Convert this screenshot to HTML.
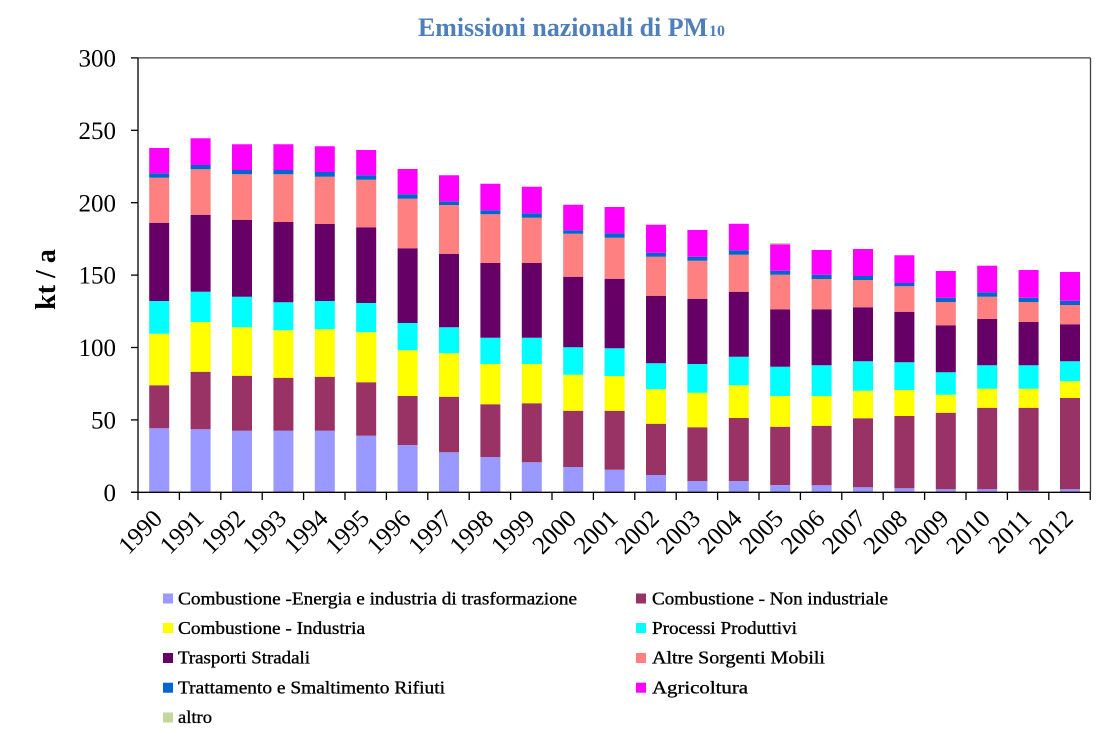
<!DOCTYPE html>
<html>
<head>
<meta charset="utf-8">
<style>
  html, body { margin: 0; padding: 0; background: #ffffff; }
  svg { display: block; }
  text { font-family: "Liberation Serif", "Times New Roman", serif; }
</style>
</head>
<body>
<svg width="1103" height="740" viewBox="0 0 1103 740" xmlns="http://www.w3.org/2000/svg">
  <rect x="0" y="0" width="1103" height="740" fill="#ffffff"/>

  <!-- Title -->
  <text x="418" y="36" font-size="26" font-weight="bold" fill="#4f7fbb" textLength="290" lengthAdjust="spacingAndGlyphs">Emissioni nazionali di PM</text>
  <text x="709" y="36" font-size="16" font-weight="bold" fill="#4f7fbb">10</text>

  <!-- Bars: lavender -->
  <path fill="#9999ff" d="M149.2,492.3V428.3h20V492.3z M190.6,492.3V429.3h20V492.3z M232,492.3V430.7h20V492.3z M273.4,492.3V430.7h20V492.3z M314.8,492.3V430.7h20V492.3z M356.2,492.3V435.7h20V492.3z M397.6,492.3V445h20V492.3z M439,492.3V452.3h20V492.3z M480.4,492.3V457h20V492.3z M521.8,492.3V462.3h20V492.3z M563.2,492.3V467h20V492.3z M604.6,492.3V469.7h20V492.3z M646,492.3V475h20V492.3z M687.4,492.3V481h20V492.3z M728.8,492.3V481h20V492.3z M770.2,492.3V485h20V492.3z M811.6,492.3V485.3h20V492.3z M853,492.3V487.3h20V492.3z M894.4,492.3V488.3h20V492.3z M935.8,492.3V489.3h20V492.3z M977.2,492.3V489.3h20V492.3z M1018.6,492.3V490.7h20V492.3z M1060,492.3V489.3h20V492.3z"/>
  <!-- maroon -->
  <path fill="#993366" d="M149.2,428.3V385.3h20V428.3z M190.6,429.3V371.7h20V429.3z M232,430.7V375.7h20V430.7z M273.4,430.7V377.7h20V430.7z M314.8,430.7V376.7h20V430.7z M356.2,435.7V382.3h20V435.7z M397.6,445V396h20V445z M439,452.3V396.7h20V452.3z M480.4,457V404.3h20V457z M521.8,462.3V403.3h20V462.3z M563.2,467V410.7h20V467z M604.6,469.7V410.7h20V469.7z M646,475V423.7h20V475z M687.4,481V427.3h20V481z M728.8,481V418h20V481z M770.2,485V426.7h20V485z M811.6,485.3V425.7h20V485.3z M853,487.3V418.3h20V487.3z M894.4,488.3V416h20V488.3z M935.8,489.3V412.7h20V489.3z M977.2,489.3V407.7h20V489.3z M1018.6,490.7V407.7h20V490.7z M1060,489.3V398h20V489.3z"/>
  <!-- yellow -->
  <path fill="#ffff00" d="M149.2,385.3V333.7h20V385.3z M190.6,371.7V322h20V371.7z M232,375.7V327.3h20V375.7z M273.4,377.7V330.3h20V377.7z M314.8,376.7V329.3h20V376.7z M356.2,382.3V332.3h20V382.3z M397.6,396V350.3h20V396z M439,396.7V353.3h20V396.7z M480.4,404.3V364h20V404.3z M521.8,403.3V364h20V403.3z M563.2,410.7V374.7h20V410.7z M604.6,410.7V376h20V410.7z M646,423.7V389.3h20V423.7z M687.4,427.3V392.7h20V427.3z M728.8,418V385.3h20V418z M770.2,426.7V396h20V426.7z M811.6,425.7V396h20V425.7z M853,418.3V390.7h20V418.3z M894.4,416V390h20V416z M935.8,412.7V394.7h20V412.7z M977.2,407.7V388.7h20V407.7z M1018.6,407.7V388.7h20V407.7z M1060,398V381.3h20V398z"/>
  <!-- cyan -->
  <path fill="#00ffff" d="M149.2,333.7V301h20V333.7z M190.6,322V291.7h20V322z M232,327.3V296.7h20V327.3z M273.4,330.3V302.3h20V330.3z M314.8,329.3V301h20V329.3z M356.2,332.3V303h20V332.3z M397.6,350.3V323h20V350.3z M439,353.3V327.3h20V353.3z M480.4,364V337.7h20V364z M521.8,364V337.7h20V364z M563.2,374.7V347.3h20V374.7z M604.6,376V348.3h20V376z M646,389.3V363.3h20V389.3z M687.4,392.7V364h20V392.7z M728.8,385.3V356.7h20V385.3z M770.2,396V366.7h20V396z M811.6,396V365.3h20V396z M853,390.7V361.3h20V390.7z M894.4,390V362.3h20V390z M935.8,394.7V372.3h20V394.7z M977.2,388.7V365.3h20V388.7z M1018.6,388.7V365.3h20V388.7z M1060,381.3V361.3h20V381.3z"/>
  <!-- dark purple -->
  <path fill="#660066" d="M149.2,301V222.7h20V301z M190.6,291.7V214.7h20V291.7z M232,296.7V219.7h20V296.7z M273.4,302.3V222h20V302.3z M314.8,301V224h20V301z M356.2,303V227.3h20V303z M397.6,323V248.3h20V323z M439,327.3V253.7h20V327.3z M480.4,337.7V263h20V337.7z M521.8,337.7V263h20V337.7z M563.2,347.3V276.7h20V347.3z M604.6,348.3V278.7h20V348.3z M646,363.3V295.7h20V363.3z M687.4,364V298.7h20V364z M728.8,356.7V291.7h20V356.7z M770.2,366.7V309.3h20V366.7z M811.6,365.3V309.3h20V365.3z M853,361.3V307.3h20V361.3z M894.4,362.3V311.7h20V362.3z M935.8,372.3V325.3h20V372.3z M977.2,365.3V319h20V365.3z M1018.6,365.3V322h20V365.3z M1060,361.3V324.3h20V361.3z"/>
  <!-- salmon -->
  <path fill="#ff8080" d="M149.2,222.7V177.7h20V222.7z M190.6,214.7V169.3h20V214.7z M232,219.7V174.3h20V219.7z M273.4,222V174.3h20V222z M314.8,224V176.7h20V224z M356.2,227.3V179.7h20V227.3z M397.6,248.3V198.7h20V248.3z M439,253.7V205h20V253.7z M480.4,263V214.3h20V263z M521.8,263V217.7h20V263z M563.2,276.7V233.7h20V276.7z M604.6,278.7V237.7h20V278.7z M646,295.7V256.7h20V295.7z M687.4,298.7V260.7h20V298.7z M728.8,291.7V254.7h20V291.7z M770.2,309.3V274.7h20V309.3z M811.6,309.3V279h20V309.3z M853,307.3V280h20V307.3z M894.4,311.7V286.3h20V311.7z M935.8,325.3V302h20V325.3z M977.2,319V296.7h20V319z M1018.6,322V302h20V322z M1060,324.3V305h20V324.3z"/>
  <!-- blue -->
  <path fill="#0066cc" d="M149.2,177.7V173.3h20V177.7z M190.6,169.3V165h20V169.3z M232,174.3V170h20V174.3z M273.4,174.3V170h20V174.3z M314.8,176.7V172h20V176.7z M356.2,179.7V175.3h20V179.7z M397.6,198.7V194.3h20V198.7z M439,205V201.3h20V205z M480.4,214.3V210.3h20V214.3z M521.8,217.7V213.3h20V217.7z M563.2,233.7V230.3h20V233.7z M604.6,237.7V233.3h20V237.7z M646,256.7V252.7h20V256.7z M687.4,260.7V256.7h20V260.7z M728.8,254.7V250.3h20V254.7z M770.2,274.7V270.7h20V274.7z M811.6,279V274.7h20V279z M853,280V276h20V280z M894.4,286.3V283h20V286.3z M935.8,302V297.7h20V302z M977.2,296.7V292.3h20V296.7z M1018.6,302V297.7h20V302z M1060,305V300.7h20V305z"/>
  <!-- magenta -->
  <path fill="#ff00ff" d="M149.2,173.3V148h20V173.3z M190.6,165V138.3h20V165z M232,170V144.3h20V170z M273.4,170V144.3h20V170z M314.8,172V146.3h20V172z M356.2,175.3V150h20V175.3z M397.6,194.3V169h20V194.3z M439,201.3V175.3h20V201.3z M480.4,210.3V183.7h20V210.3z M521.8,213.3V186.7h20V213.3z M563.2,230.3V204.7h20V230.3z M604.6,233.3V207h20V233.3z M646,252.7V224.7h20V252.7z M687.4,256.7V230h20V256.7z M728.8,250.3V223.7h20V250.3z M770.2,270.7V244.2h20V270.7z M811.6,274.7V250h20V274.7z M853,276V249h20V276z M894.4,283V255.3h20V283z M935.8,297.7V271h20V297.7z M977.2,292.3V265.7h20V292.3z M1018.6,297.7V270h20V297.7z M1060,300.7V272h20V300.7z"/>
  <!-- altro (tiny) -->
  <path fill="#c3d69b" d="M770.2,244.2V243h20V244.2z"/>

  <!-- Frame (top & right) -->
  <line x1="138" y1="57.9" x2="1090.5" y2="57.9" stroke="#404040" stroke-width="1.3"/>
  <line x1="1090.5" y1="57.9" x2="1090.5" y2="492.3" stroke="#404040" stroke-width="1.3"/>

  <!-- Axes -->
  <line x1="138" y1="57.9" x2="138" y2="492.3" stroke="#000" stroke-width="1.3"/>
  <line x1="131" y1="492.3" x2="1090.5" y2="492.3" stroke="#000" stroke-width="1.3"/>

  <!-- Y ticks -->
  <g stroke="#000" stroke-width="1.3">
    <line x1="131" y1="57.9" x2="138" y2="57.9"/>
    <line x1="131" y1="130.3" x2="138" y2="130.3"/>
    <line x1="131" y1="202.7" x2="138" y2="202.7"/>
    <line x1="131" y1="275.1" x2="138" y2="275.1"/>
    <line x1="131" y1="347.5" x2="138" y2="347.5"/>
    <line x1="131" y1="419.9" x2="138" y2="419.9"/>
    <line x1="131" y1="492.3" x2="138" y2="492.3"/>
  </g>

  <!-- X ticks -->
  <path stroke="#000" stroke-width="1.3" fill="none" d="M138,492.3V500 M179.4,492.3V500 M220.8,492.3V500 M262.2,492.3V500 M303.6,492.3V500 M345,492.3V500 M386.4,492.3V500 M427.8,492.3V500 M469.2,492.3V500 M510.6,492.3V500 M552,492.3V500 M593.4,492.3V500 M634.8,492.3V500 M676.2,492.3V500 M717.6,492.3V500 M759,492.3V500 M800.4,492.3V500 M841.8,492.3V500 M883.2,492.3V500 M924.6,492.3V500 M966,492.3V500 M1007.4,492.3V500 M1048.8,492.3V500 M1090.2,492.3V500"/>

  <!-- Y tick labels -->
  <g font-size="25" fill="#000" text-anchor="end">
    <text x="116" y="66.5">300</text>
    <text x="116" y="138.9">250</text>
    <text x="116" y="211.3">200</text>
    <text x="116" y="283.7">150</text>
    <text x="116" y="356.1">100</text>
    <text x="116" y="428.5">50</text>
    <text x="116" y="500.9">0</text>
  </g>

  <!-- Y axis title -->
  <text x="0" y="0" font-size="28" font-weight="bold" fill="#000" text-anchor="middle" transform="translate(55,279.5) rotate(-90)">kt / a</text>

  <!-- X tick labels -->
  <g font-size="25" fill="#000" text-anchor="end">
    <text transform="translate(163.7,520) rotate(-45)">1990</text>
    <text transform="translate(205.1,520) rotate(-45)">1991</text>
    <text transform="translate(246.5,520) rotate(-45)">1992</text>
    <text transform="translate(287.9,520) rotate(-45)">1993</text>
    <text transform="translate(329.3,520) rotate(-45)">1994</text>
    <text transform="translate(370.7,520) rotate(-45)">1995</text>
    <text transform="translate(412.1,520) rotate(-45)">1996</text>
    <text transform="translate(453.5,520) rotate(-45)">1997</text>
    <text transform="translate(494.9,520) rotate(-45)">1998</text>
    <text transform="translate(536.3,520) rotate(-45)">1999</text>
    <text transform="translate(577.7,520) rotate(-45)">2000</text>
    <text transform="translate(619.1,520) rotate(-45)">2001</text>
    <text transform="translate(660.5,520) rotate(-45)">2002</text>
    <text transform="translate(701.9,520) rotate(-45)">2003</text>
    <text transform="translate(743.3,520) rotate(-45)">2004</text>
    <text transform="translate(784.7,520) rotate(-45)">2005</text>
    <text transform="translate(826.1,520) rotate(-45)">2006</text>
    <text transform="translate(867.5,520) rotate(-45)">2007</text>
    <text transform="translate(908.9,520) rotate(-45)">2008</text>
    <text transform="translate(950.3,520) rotate(-45)">2009</text>
    <text transform="translate(991.7,520) rotate(-45)">2010</text>
    <text transform="translate(1033.1,520) rotate(-45)">2011</text>
    <text transform="translate(1074.5,520) rotate(-45)">2012</text>
  </g>

  <!-- Legend -->
  <g font-size="18" fill="#000" stroke="#000" stroke-width="0.35">
    <rect x="163" y="593.5" width="10" height="10" fill="#9999ff" stroke="none"/>
    <text x="178" y="604.5" textLength="399" lengthAdjust="spacingAndGlyphs">Combustione -Energia e industria di trasformazione</text>
    <rect x="163" y="623" width="10" height="10" fill="#ffff00" stroke="none"/>
    <text x="178" y="634" textLength="187" lengthAdjust="spacingAndGlyphs">Combustione - Industria</text>
    <rect x="163" y="653" width="10" height="10" fill="#660066" stroke="none"/>
    <text x="178" y="663.5" textLength="132" lengthAdjust="spacingAndGlyphs">Trasporti Stradali</text>
    <rect x="163" y="682.7" width="10" height="10" fill="#0066cc" stroke="none"/>
    <text x="178" y="693.5" textLength="267" lengthAdjust="spacingAndGlyphs">Trattamento e Smaltimento Rifiuti</text>
    <rect x="163" y="712.5" width="10" height="10" fill="#c3d69b" stroke="none"/>
    <text x="178" y="723" textLength="34" lengthAdjust="spacingAndGlyphs">altro</text>

    <rect x="636" y="593.5" width="10" height="10" fill="#993366" stroke="none"/>
    <text x="652" y="604.5" textLength="236" lengthAdjust="spacingAndGlyphs">Combustione - Non industriale</text>
    <rect x="636" y="623" width="10" height="10" fill="#00ffff" stroke="none"/>
    <text x="652" y="634" textLength="145" lengthAdjust="spacingAndGlyphs">Processi Produttivi</text>
    <rect x="636" y="653" width="10" height="10" fill="#ff8080" stroke="none"/>
    <text x="652" y="663.5" textLength="173" lengthAdjust="spacingAndGlyphs">Altre Sorgenti Mobili</text>
    <rect x="636" y="682.7" width="10" height="10" fill="#ff00ff" stroke="none"/>
    <text x="652" y="693.5" textLength="96" lengthAdjust="spacingAndGlyphs">Agricoltura</text>
  </g>
</svg>
</body>
</html>
